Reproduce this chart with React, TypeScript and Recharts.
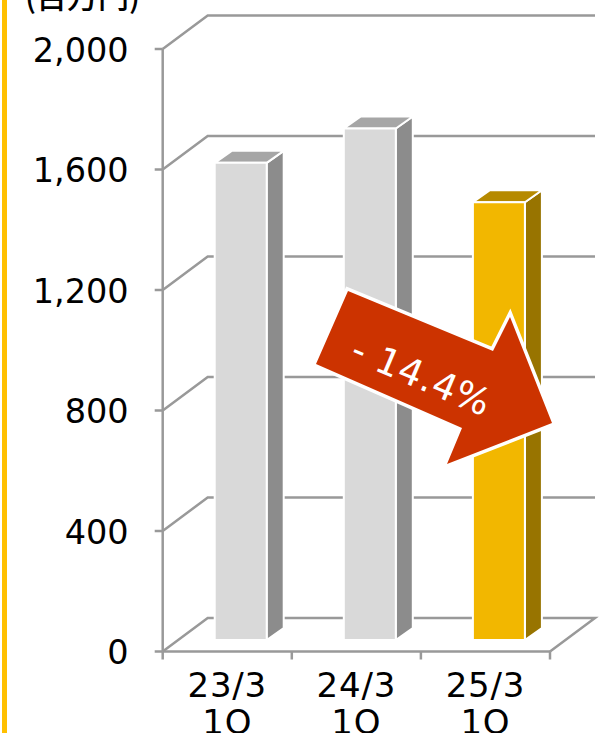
import React from 'react';
import { BarChart, Bar, XAxis, YAxis, CartesianGrid } from 'recharts';

const periods = ['23/3', '24/3', '25/3'];
const quarters = ['1Q', '1Q', '1Q'];
const profit = [1584, 1698, 1453];
const valueTicks = [0, 400, 800, 1200, 1600, 2000];
const unitLabel = '(百万円)';
const changeLabel = '- 14.4%';

const chartData = periods.map((period, i) => ({ period, quarter: quarters[i], profit: profit[i] }));

const greyFaces = { front: '#D9D9D9', top: '#A6A6A6', side: '#8C8C8C' };
const goldFaces = { front: '#F2B700', top: '#B68A00', side: '#987400' };
const lineColor = '#999999';
const axisFont = '"DejaVu Sans", sans-serif';

const margin = { top: 49, right: 49, bottom: 0, left: 0.7 };
const yAxisWidth = 162;
const xAxisHeight = 81.5;
const bandWidth = (599 - margin.left - yAxisWidth - margin.right) / periods.length;

// how far the back wall sits behind the front plane
const wallX = 45;
const wallY = 33.5;

function WallLine(props: any) {
    const { x1, x2, y1, y, height } = props;
    const isFloor = y1 >= y + height - 0.5;
    const backY = y1 - wallY;
    const path = `M${x1},${y1} L${x1 + wallX},${backY} L${x2 + wallX},${backY}` +
        (isFloor ? ` L${x2},${y1}` : '');
    return <path d={path} fill="none" stroke={lineColor} strokeWidth={2.5} />;
}

function Box(props: any) {
    const { x, y, width, height, index } = props;
    const faces = index === 2 ? goldFaces : greyFaces;
    const fx = x + 13;
    const fy = y - 11.5;
    const dx = 17;
    const dy = 12;
    const right = fx + width;
    return (
        <g stroke="#fff" strokeWidth={2} strokeLinejoin="round">
            <polygon
                points={`${right},${fy} ${right + dx},${fy - dy} ${right + dx},${fy + height - dy} ${right},${fy + height}`}
                fill={faces.side}
            />
            <polygon
                points={`${fx},${fy} ${fx + dx},${fy - dy} ${right + dx},${fy - dy} ${right},${fy}`}
                fill={faces.top}
            />
            <rect x={fx} y={fy} width={width} height={height} fill={faces.front} />
        </g>
    );
}

function PeriodTick(props: any) {
    const { x, y, index } = props;
    const left = x - bandWidth / 2;
    const labelProps = { x, textAnchor: 'middle', fontSize: 34, letterSpacing: 0.8, fontFamily: axisFont, fill: '#000' } as const;
    return (
        <g>
            <line x1={left} y1={y} x2={left} y2={y + 8} stroke={lineColor} strokeWidth={2.5} />
            {index === periods.length - 1 && (
                <line x1={left + bandWidth} y1={y} x2={left + bandWidth} y2={y + 8} stroke={lineColor} strokeWidth={2.5} />
            )}
            <text {...labelProps} y={y + 45}>
                {periods[index]}
            </text>
            <text {...labelProps} y={y + 82}>
                {quarters[index]}
            </text>
        </g>
    );
}

function App() {
    return (
        <div style={{ position: 'absolute', left: 0, top: 0, width: 599, height: 733, overflow: 'hidden', background: '#fff' }}>
            <div style={{ position: 'absolute', left: 2, top: 0, width: 5, height: 733, background: '#FFC000' }} />
            <BarChart width={599} height={733} data={chartData} margin={margin}>
                <CartesianGrid vertical={false} horizontal={(p: any) => <WallLine key={p.key} {...p} />} />
                <XAxis
                    dataKey="period"
                    height={xAxisHeight}
                    interval={0}
                    tickLine={false}
                    tickSize={0}
                    tickMargin={0}
                    axisLine={{ stroke: lineColor, strokeWidth: 2.5 }}
                    tick={<PeriodTick />}
                />
                <YAxis
                    width={yAxisWidth}
                    domain={[0, 2000]}
                    ticks={valueTicks}
                    interval={0}
                    tickSize={8}
                    tickMargin={26}
                    tickFormatter={(v: number) => v.toLocaleString('en-US')}
                    axisLine={{ stroke: lineColor, strokeWidth: 2.5 }}
                    tickLine={{ stroke: lineColor, strokeWidth: 2.5 }}
                    tick={{ fill: '#000', fontSize: 33.5, fontFamily: axisFont, dy: 1 }}
                />
                <Bar dataKey="profit" barSize={52} shape={<Box />} isAnimationActive={false} />
            </BarChart>
            {/* unit caption and year-on-year arrow sit above the chart layers */}
            <svg width={599} height={733} style={{ position: 'absolute', left: 0, top: 0 }}>
                <text x={25} y={8} fontSize={31} fontWeight={500} fontFamily='"Noto Sans CJK JP", sans-serif' fill="#000">
                    {unitLabel}
                </text>
                <polygon
                    points="348,291 493,351 510,317 552,423 447,464 462,428 316,364"
                    fill="#CC3300"
                    stroke="#fff"
                    strokeWidth={7}
                    strokeLinejoin="miter"
                    paintOrder="stroke"
                />
                <text
                    x={421}
                    y={389}
                    textAnchor="middle"
                    fontSize={37}
                    letterSpacing={0.7}
                    fontFamily={axisFont}
                    fill="#fff"
                    transform="rotate(23 421 377)"
                >
                    {changeLabel}
                </text>
            </svg>
        </div>
    );
}

export default App;
